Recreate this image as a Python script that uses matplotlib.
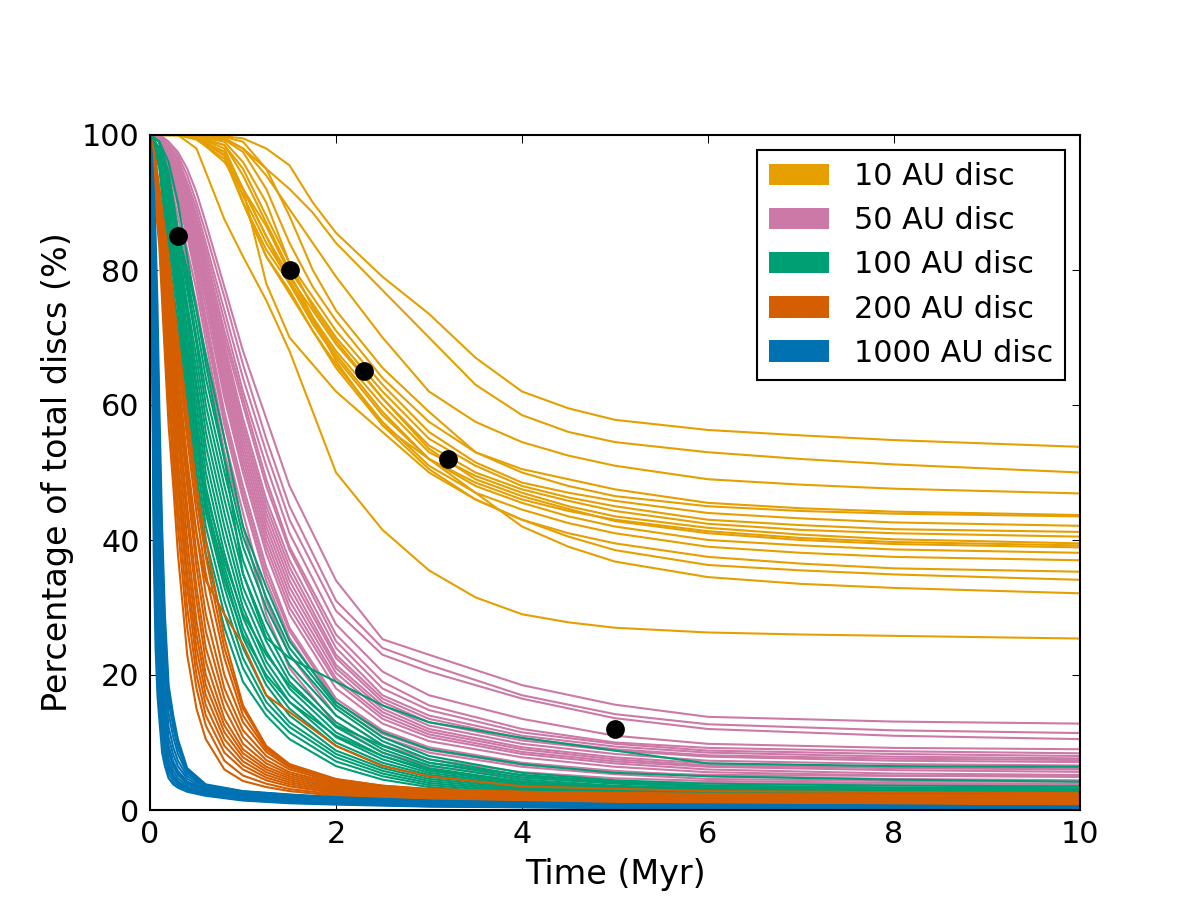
import matplotlib
matplotlib.use("Agg")
import matplotlib.pyplot as plt
from matplotlib.patches import Patch

# ---------------- data ----------------
labels = ["10 AU disc", "50 AU disc", "100 AU disc", "200 AU disc", "1000 AU disc"]
colors = ["#E69F00", "#CC79A7", "#009E73", "#D55E00", "#0072B2"]

# 10 AU disc
t_10 = [0, 0.3, 0.5, 0.8, 1.0, 1.25, 1.5, 1.75, 2.0, 2.5, 3.0, 3.5, 4.0, 4.5, 5.0, 6.0, 7.0, 8.0, 10.0]
runs_10 = [
    [100, 100, 100, 99.8, 99.5, 98, 95.5, 90, 85.5, 79, 73.5, 67, 62, 59.5, 57.8, 56.3, 55.5, 54.8, 53.8],
    [100, 100, 100, 99.5, 98, 95, 92, 88.5, 84, 77, 70, 63, 58.5, 56, 54.5, 53, 52, 51.2, 50.0],
    [100, 100, 100, 99.5, 98, 94, 89, 84, 79, 70, 62, 57.5, 54.5, 52.5, 51, 49, 48.2, 47.6, 46.9],
    [100, 100, 100, 99.7, 99, 95, 88, 80, 74, 65.5, 59, 53, 50.5, 49, 47.5, 45.5, 44.7, 44.2, 43.7],
    [100, 100, 99.8, 99.3, 97.5, 92, 84, 77.5, 72.5, 64, 57.5, 53, 50, 48, 46.5, 45, 44.3, 43.9, 43.5],
    [100, 100, 99.8, 99, 96, 90, 81, 76, 71, 63, 56, 51.5, 48.5, 47, 45.8, 44, 43.2, 42.6, 42.1],
    [100, 100, 99.7, 98.5, 94, 87, 80, 75, 70, 62, 55, 51, 48, 46.3, 45, 43, 42.2, 41.6, 41.2],
    [100, 100, 99.7, 98, 92, 85, 79, 74, 69, 61, 54, 50, 47.5, 45.8, 44.3, 42.4, 41.5, 41, 40.5],
    [100, 100, 99.5, 97.5, 91, 84, 78.5, 73, 68, 60, 53, 49.5, 47, 45, 43.5, 41.8, 40.8, 40.1, 39.5],
    [100, 100, 99.5, 97, 90, 83, 78, 72.5, 67.5, 59, 52, 48.5, 46, 44.3, 43, 41.3, 40.3, 39.7, 39.2],
    [100, 100, 99.7, 98.5, 95, 88, 81, 74.5, 69.5, 61, 53.5, 49, 46.5, 44.6, 42.8, 41, 40, 39.4, 38.9],
    [100, 100, 99.5, 97.5, 92, 85, 78, 72, 67, 58.5, 52, 48, 45.5, 43.5, 42, 40, 39.2, 38.6, 38.1],
    [100, 100, 99.5, 97, 90, 82, 77, 71, 66, 57.5, 51, 47, 44.5, 42.5, 41, 39, 38.1, 37.5, 37.0],
    [100, 100, 99.3, 96.5, 90, 82, 76.5, 71, 65.5, 57, 50.5, 46, 43, 41, 39.5, 37.5, 36.5, 35.8, 35.3],
    [100, 100, 99.8, 97, 92, 78, 70, 66, 62, 56, 50, 46, 43, 40.5, 38.5, 36.3, 35.5, 34.9, 34.1],
    [100, 100, 99.5, 96, 92, 86.5, 79.5, 73, 66.5, 57, 52, 47, 42, 39, 36.8, 34.5, 33.5, 32.9, 32.1],
    [100, 100, 98, 87.5, 82, 75.5, 68, 59, 50, 41.5, 35.5, 31.5, 29, 27.8, 27, 26.3, 26, 25.8, 25.4],
]

# 50 AU disc
t_50 = [0, 0.1, 0.2, 0.3, 0.4, 0.5, 0.6, 0.8, 1.0, 1.25, 1.5, 2.0, 2.5, 3.0, 4.0, 5.0, 6.0, 8.0, 10.0]
runs_50 = [
    [100, 100, 99, 97.5, 95, 91.5, 87, 77.5, 68, 58, 48, 34, 25.3, 23, 18.5, 15.6, 13.8, 13.1, 12.8],
    [100, 100, 99, 97, 94, 90, 85.5, 76, 66, 55, 45, 31, 24, 21.5, 17, 14.2, 12.7, 11.8, 11.4],
    [100, 100, 98.5, 96.5, 93, 89, 84, 74, 64, 53, 43, 29.5, 23, 20.5, 16.5, 13.6, 12, 11, 10.5],
    [100, 99.5, 98, 95.5, 92, 87.5, 82, 71, 61, 49, 39, 26, 19, 15.5, 12, 10, 9.2, 8.7, 8.4],
    [100, 99.5, 98, 95, 91, 86, 80, 69, 58, 46, 37, 24, 17, 14, 11, 9.4, 8.5, 7.9, 7.65],
    [100, 99.5, 97.5, 94.5, 90, 85, 79, 67, 56, 44, 35, 22.5, 16, 13, 10.3, 8.8, 7.9, 7.3, 7.1],
    [100, 99.5, 97, 94, 89, 83.5, 77.5, 65, 54, 42, 33, 21, 15, 12, 9.3, 7.8, 6.9, 6.4, 6.15],
    [100, 99.5, 97, 93, 88, 82, 76, 63, 52, 40, 31, 19.5, 14, 11.2, 8.6, 7.2, 6.4, 5.9, 5.65],
    [100, 99, 96.5, 92, 87, 81, 74.5, 61, 50, 38, 29, 18, 12.8, 10.2, 7.8, 6.4, 5.6, 5.1, 4.9],
    [100, 99, 96, 91.5, 86, 80, 73, 59, 48, 36, 27, 16.5, 11.8, 9.3, 7, 5.8, 5.0, 4.6, 4.4],
    [100, 99, 95.5, 90.5, 85, 78.5, 71, 57, 46, 34, 25.5, 15.5, 10.8, 8.5, 6.4, 5.3, 4.6, 4.3, 4.2],
    [100, 99, 94, 88, 81, 75, 67, 53, 42, 29, 21, 12.5, 8.5, 6.5, 4.8, 4.2, 4.0, 3.8, 3.7],
    [100, 99.5, 98, 95, 91.5, 87, 81, 70, 60, 48, 38.5, 25, 18, 14.8, 11.5, 9.8, 8.8, 8.3, 8.0],
    [100, 99.5, 97.5, 94, 89.5, 84, 78, 66, 55, 43, 34, 21.5, 15.5, 12.5, 9.8, 8.3, 7.3, 6.8, 6.6],
    [100, 99, 97, 93, 88, 82.5, 76, 62, 51, 39, 30, 19, 13.5, 10.8, 8.3, 6.9, 6.0, 5.4, 5.2],
    [100, 100, 98.5, 96, 92.5, 88, 83, 72.5, 62, 51, 41, 27.5, 20.5, 17, 13.5, 11, 9.8, 9.2, 9.0],
    [100, 99, 95, 89.5, 83, 77, 69.5, 55, 44, 31, 23, 14, 9.6, 7.5, 5.6, 4.7, 4.3, 4.0, 3.9],
    [100, 99, 96, 91, 85.5, 79, 72, 58, 47, 35, 26.5, 16, 11.3, 8.9, 6.7, 5.6, 5.2, 5.05, 5.0],
    [100, 99.5, 97, 93.5, 88.5, 83, 77, 64, 53, 41, 32, 20.3, 14.5, 11.6, 9, 7.5, 6.6, 6.2, 6.0],
    [100, 99.5, 98, 95, 90.5, 85.5, 79.5, 68, 57, 45, 36, 23, 16.5, 13.5, 10.6, 9.0, 8.1, 7.6, 7.4],
]

# 100 AU disc
t_100 = [0, 0.1, 0.2, 0.3, 0.4, 0.5, 0.6, 0.8, 1.0, 1.25, 1.5, 2.0, 2.5, 3.0, 4.0, 5.0, 6.0, 8.0, 10.0]
runs_100 = [
    [100, 95, 82, 72, 60, 48, 38, 27, 19, 14, 10.5, 6.5, 4.5, 3.4, 2.4, 2.0, 1.8, 1.6, 1.5],
    [100, 96, 84, 74, 62, 50, 40, 29, 21, 15, 11.5, 7.2, 5.0, 3.7, 2.6, 2.2, 1.9, 1.7, 1.6],
    [100, 96, 85, 75, 64, 52, 42, 31, 22.5, 16, 12.3, 7.8, 5.4, 4.0, 2.8, 2.3, 2.0, 1.8, 1.7],
    [100, 97, 87, 77, 66, 54, 44, 33, 24, 17, 13, 8.3, 5.8, 4.3, 3.0, 2.4, 2.1, 1.9, 1.8],
    [100, 97, 88, 78, 67, 56, 46, 35, 25.5, 18.5, 14, 8.8, 6.2, 4.6, 3.2, 2.5, 2.2, 2.0, 1.9],
    [100, 97, 88, 79, 69, 58, 48, 36, 27, 19.5, 15, 9.5, 6.6, 4.9, 3.4, 2.7, 2.4, 2.1, 2.0],
    [100, 98, 89, 80, 70, 60, 50, 38, 28.5, 21, 16, 10, 7.0, 5.2, 3.6, 2.9, 2.5, 2.2, 2.1],
    [100, 98, 90, 81, 71, 62, 52, 40, 30, 22, 17, 10.8, 7.5, 5.5, 3.8, 3.0, 2.6, 2.3, 2.2],
    [100, 98, 90, 82, 73, 63, 54, 42, 31.5, 23.5, 18, 11.5, 8.0, 5.8, 4.0, 3.2, 2.8, 2.5, 2.4],
    [100, 98, 91, 83, 74, 65, 56, 44, 33, 25, 19, 12.3, 8.5, 6.2, 4.2, 3.4, 3.0, 2.7, 2.6],
    [100, 98, 92, 84, 75, 67, 58, 46, 35, 26.5, 20, 13, 9.0, 6.6, 4.5, 3.6, 3.2, 2.9, 2.8],
    [100, 99, 92, 85, 77, 69, 60, 48, 37, 28, 21.5, 14, 9.6, 7.0, 4.8, 3.9, 3.4, 3.1, 3.0],
    [100, 99, 93, 85, 78, 70, 62, 50, 39, 30, 23, 15, 10.2, 7.5, 5.1, 4.1, 3.6, 3.3, 3.2],
    [100, 99, 94, 86, 79, 72, 64, 52, 40.5, 31.5, 24, 15.5, 10.8, 8.0, 5.5, 4.4, 3.9, 3.6, 3.5],
    [100, 99, 94.5, 86, 80, 74, 67.5, 55, 42, 33, 25, 16, 11.5, 9, 6.8, 5.5, 5.0, 4.5, 4.2],
    [100, 99, 96, 90, 82, 74, 66, 52, 35, 25.5, 22.5, 19, 15.5, 13, 10.7, 8.8, 6.9, 6.5, 6.4],
    [100, 97, 86, 76, 65, 55, 45, 34, 26, 20, 16, 11, 8, 6, 4.2, 3.3, 2.9, 2.6, 2.5],
    [100, 98, 89, 79, 68, 57, 47, 37, 29, 23, 18.5, 12.5, 9.5, 7, 5.2, 4.2, 3.6, 3.3, 3.2],
]

# 200 AU disc
t_200 = [0, 0.05, 0.1, 0.15, 0.2, 0.25, 0.3, 0.4, 0.5, 0.6, 0.8, 1.0, 1.25, 1.5, 2.0, 2.5, 3.0, 4.0, 6.0, 10.0]
runs_200 = [
    [100, 91, 83.5, 70, 57, 48, 38, 23, 15, 10.5, 6.0, 4.3, 3.4, 2.8, 2.1, 1.6, 1.3, 1.0, 0.7, 0.5],
    [100, 92, 85, 73, 61, 51, 42, 27, 18, 12.5, 7.3, 5.1, 3.9, 3.1, 2.3, 1.8, 1.4, 1.0, 0.8, 0.6],
    [100, 93, 86, 75, 63, 54, 45, 30, 20, 14, 8.5, 6.0, 4.4, 3.5, 2.5, 1.9, 1.5, 1.1, 0.8, 0.6],
    [100, 94, 87, 77, 66, 57, 48, 33, 22, 15.5, 9.5, 6.6, 4.8, 3.8, 2.7, 2.1, 1.7, 1.2, 0.9, 0.7],
    [100, 94, 88, 78, 68, 59, 50, 35, 24, 17, 10.5, 7.2, 5.2, 4.1, 2.9, 2.2, 1.8, 1.3, 1.0, 0.8],
    [100, 95, 88, 80, 70, 61, 52, 37.5, 26, 18.5, 11.5, 7.8, 5.6, 4.4, 3.1, 2.4, 1.9, 1.4, 1.1, 0.9],
    [100, 95, 89, 81, 72, 63, 55, 40, 28, 20, 12.5, 8.4, 6.0, 4.7, 3.3, 2.5, 2.0, 1.5, 1.2, 1.0],
    [100, 95, 89, 82, 73, 65, 57, 43, 31, 22, 13.5, 9.0, 6.4, 5.0, 3.5, 2.7, 2.2, 1.7, 1.3, 1.1],
    [100, 96, 90, 83, 75, 67, 59, 45, 33, 24, 15, 9.8, 6.9, 5.3, 3.7, 2.9, 2.4, 1.8, 1.4, 1.2],
    [100, 96, 90, 84, 76, 69, 61, 48, 36, 26.5, 16.5, 10.8, 7.4, 5.6, 3.9, 3.0, 2.5, 2.0, 1.6, 1.4],
    [100, 96, 91, 85, 78, 71, 63, 50, 38, 29, 18, 11.8, 8.0, 6.0, 4.1, 3.2, 2.7, 2.2, 1.8, 1.5],
    [100, 96, 91, 85, 79, 72, 65, 52, 41, 32, 20, 13, 8.6, 6.3, 4.3, 3.4, 2.8, 2.4, 2.0, 1.7],
    [100, 97, 91, 86, 80, 74, 67, 55, 44, 35, 22.5, 14, 9.0, 6.5, 4.4, 3.5, 3.0, 2.6, 2.2, 1.9],
    [100, 97, 92, 86, 81, 75, 68.5, 57, 46, 37.5, 24, 15, 9.3, 6.7, 4.5, 3.6, 3.1, 2.7, 2.3, 2.1],
    [100, 96, 91, 84, 77, 70, 63, 50, 41, 34, 29, 24.5, 17, 14.5, 9.5, 6.5, 5, 3.5, 2.8, 2.5],
    [100, 97, 92, 87, 82, 76, 70, 59, 48, 40, 25.5, 15.5, 9.5, 6.8, 4.6, 3.6, 3.1, 2.7, 2.4, 2.2],
]

# 1000 AU disc
t_1000 = [0, 0.02, 0.04, 0.06, 0.08, 0.1, 0.13, 0.16, 0.2, 0.25, 0.3, 0.4, 0.6, 1.0, 1.5, 2.0, 3.0, 5.0, 10.0]
runs_1000 = [
    [100, 72, 38, 24, 17, 13.5, 8.5, 6.5, 4.7, 3.8, 3.3, 2.7, 2.1, 1.4, 1.0, 0.8, 0.5, 0.3, 0.15],
    [100, 76, 44, 28, 19.5, 15, 10, 7.4, 5.4, 4.2, 3.6, 2.9, 2.2, 1.5, 1.1, 0.9, 0.55, 0.3, 0.15],
    [100, 79, 50, 32, 22, 17, 11.5, 8.4, 6.0, 4.7, 3.9, 3.1, 2.4, 1.7, 1.3, 1.0, 0.6, 0.35, 0.2],
    [100, 82, 55, 36, 25.5, 19, 13, 9.5, 6.8, 5.2, 4.3, 3.3, 2.5, 1.8, 1.4, 1.1, 0.7, 0.4, 0.2],
    [100, 85, 60, 41, 29, 22, 15, 10.8, 7.6, 5.8, 4.7, 3.6, 2.7, 2.0, 1.6, 1.3, 0.85, 0.5, 0.25],
    [100, 87, 65, 46, 33, 25, 17, 12, 8.5, 6.5, 5.2, 3.9, 2.9, 2.1, 1.7, 1.4, 0.9, 0.5, 0.25],
    [100, 89, 70, 51, 38, 28.5, 19.5, 13.5, 9.5, 7.2, 5.8, 4.2, 3.1, 2.3, 1.8, 1.5, 1.0, 0.6, 0.3],
    [100, 91, 74, 57, 43, 32, 22, 15.5, 10.7, 8.2, 6.5, 4.6, 3.2, 2.4, 1.9, 1.6, 1.1, 0.6, 0.3],
    [100, 93, 79, 63, 49, 37, 25.5, 18, 12.3, 9.3, 7.3, 5.0, 3.4, 2.5, 2.0, 1.7, 1.2, 0.7, 0.35],
    [100, 94, 83, 70, 56, 43, 30, 21, 14.3, 10.8, 8.3, 5.4, 3.5, 2.6, 2.1, 1.8, 1.3, 0.75, 0.4],
    [100, 95, 87, 77, 64, 50, 35, 24.5, 16.2, 12.2, 9.2, 5.7, 3.6, 2.7, 2.2, 1.8, 1.3, 0.8, 0.45],
    [100, 96, 90, 82, 70, 55, 39, 27, 17.5, 13.2, 9.9, 5.9, 3.7, 2.75, 2.25, 1.85, 1.35, 0.85, 0.5],
    [100, 97, 92, 85, 75, 60, 42, 29, 18.5, 14, 10.5, 6.2, 3.8, 2.8, 2.3, 1.9, 1.4, 0.9, 0.5],
    [100, 88, 68, 49, 35, 26.5, 18, 12.8, 9, 6.8, 5.5, 4.0, 3.0, 2.2, 1.75, 1.45, 0.95, 0.55, 0.3],
    [100, 80, 52, 34, 24, 18, 12, 9, 6.4, 5.0, 4.1, 3.2, 2.45, 1.75, 1.35, 1.05, 0.65, 0.38, 0.2],
]

# observed points (black dots)
obs_t = [0.3, 1.5, 2.3, 3.2, 5.0]
obs_pct = [85, 80, 65, 52, 12]

x_ticks = [0, 2, 4, 6, 8, 10]
y_ticks = [0, 20, 40, 60, 80, 100]

# ---------------- figure ----------------
plt.rcParams.update({
    "font.family": ["DejaVu Sans"],
    "xtick.direction": "in",
    "ytick.direction": "in",
    "xtick.top": True,
    "ytick.right": True,
    "xtick.major.size": 4,
    "ytick.major.size": 4,
    "xtick.major.width": 0.5,
    "ytick.major.width": 0.5,
    "xtick.major.pad": 5,
    "ytick.major.pad": 5,
    "axes.linewidth": 1.0,
})

fig = plt.figure(figsize=(8, 6), dpi=150, facecolor="white")
ax = fig.add_axes([0.125, 0.1, 0.775, 0.75])

groups = [(t_10, runs_10), (t_50, runs_50), (t_100, runs_100),
          (t_200, runs_200), (t_1000, runs_1000)]
for (tt, runs), col in zip(groups, colors):
    for r in runs:
        ax.plot(tt, r, color=col, lw=1.0, solid_joinstyle="round")

ax.plot(obs_t, obs_pct, "o", color="black", markersize=8, zorder=10)

ax.set_xlim(0, 10)
ax.set_ylim(0, 100)
ax.set_xticks(x_ticks)
ax.set_yticks(y_ticks)
ax.tick_params(labelsize=14.5)
ax.set_xlabel("Time (Myr)", fontsize=16)
ax.set_ylabel("Percentage of total discs (%)", fontsize=16)

handles = [Patch(facecolor=c, edgecolor="none", label=l) for c, l in zip(colors, labels)]
leg = ax.legend(handles=handles, loc="upper right", fontsize=14.5, fancybox=False,
                framealpha=1.0, edgecolor="black", borderaxespad=0.5)
leg.get_frame().set_linewidth(1.0)

fig.savefig("out.png", dpi=150, facecolor="white")
